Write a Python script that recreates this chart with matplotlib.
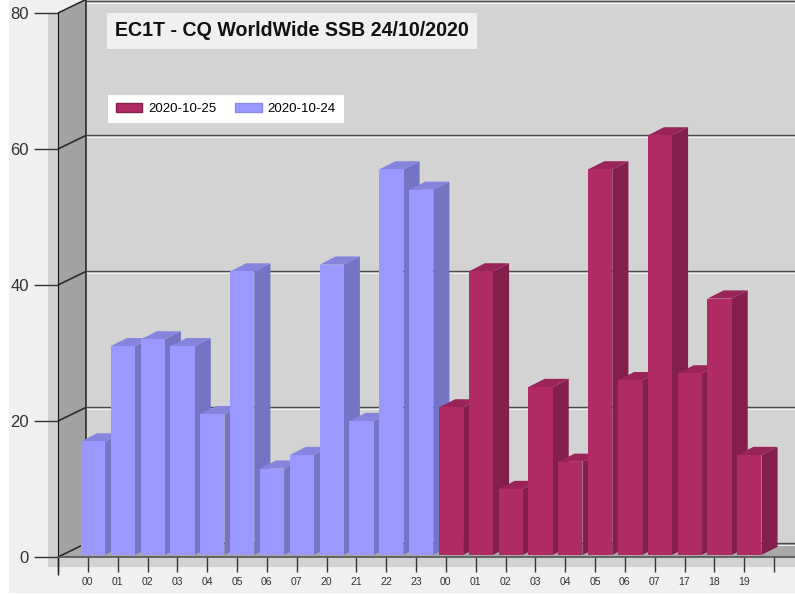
import matplotlib
matplotlib.use("Agg")
import matplotlib.pyplot as plt
from matplotlib.patches import Polygon, Patch, Rectangle

plt.rcParams['font.family'] = ['Liberation Sans', 'DejaVu Sans']

# bars, in the order they sit on the axis
labels_24 = ['00', '01', '02', '03', '04', '05', '06', '07', '20', '21', '22', '23']
values_24 = [17, 31, 32, 31, 21, 42, 13, 15, 43, 20, 57, 54]
labels_25 = ['00', '01', '02', '03', '04', '05', '06', '07', '17', '18', '19']
values_25 = [22, 42, 10, 25, 14, 57, 26, 62, 27, 38, 15]
yticks = [0, 20, 40, 60, 80]

BLUE = ('#9999ff', '#7474c4', '#8585de')
RED = ('#b02b66', '#841f4d', '#9a2459')

W, H = 795, 596
fig = plt.figure(figsize=(W / 100, H / 100), dpi=100, facecolor='white')

# page background, leaves the thin white margin on the left and bottom
fig.add_artist(Rectangle((9 / W, 4 / H), 1, 1, transform=fig.transFigure, color='#f0f0f0', zorder=-5))

ax = fig.add_axes([58 / W, (H - 557) / H, (774 - 58) / W, (557 - 13) / H])
ax.set_xlim(0, 24)
ax.set_ylim(0, 80)
ax.patch.set_alpha(0)

# wall depth in data units
dx = 0.94
dy = 2.0
xmax = 25.5


def poly(points, color, z):
    ax.add_patch(Polygon(points, closed=True, facecolor=color, edgecolor='none', zorder=z, clip_on=False))


def line(xs, ys, color='#222222', lw=1.0, z=2):
    ax.plot(xs, ys, color=color, lw=lw, zorder=z, clip_on=False, solid_capstyle='butt')


# shadow band behind the axes
poly([(-0.33, -1.5), (0, -1.5), (0, 80), (-0.33, 80)], '#d2d2d2', 0)
poly([(-0.33, -1.5), (xmax, -1.5), (xmax, 0), (-0.33, 0)], '#d2d2d2', 0)

# back wall, side wall and floor
poly([(dx, dy), (xmax, dy), (xmax, 83), (dx, 83)], '#d3d3d3', 0.5)
poly([(0, 0), (dx, dy), (dx, 82), (0, 80)], '#a2a2a2', 0.6)
poly([(0, 0), (xmax, 0), (xmax, dy), (dx, dy)], '#a8a8a8', 0.6)

# gridlines run along the side wall and the back wall
for v in yticks:
    line([0, dx], [v, v + dy], lw=1.1, z=1)
    top = min(v + dy, 81.7)
    line([dx, xmax], [top, top], color='#4a4a4a', lw=1.0, z=1)
    line([dx, xmax], [top - 0.3, top - 0.3], color='#f4f4f4', lw=0.7, z=0.9)
line([dx, dx], [0 + dy, 82], lw=1.1, z=1)

# 3d columns
bar_w = 0.81
bar_off = 0.77
depth_x = 0.54
depth_y = 1.2
floor = 0.3
all_values = values_24 + values_25
colors = [BLUE] * len(values_24) + [RED] * len(values_25)
for i, (v, c) in enumerate(zip(all_values, colors)):
    x0 = i + bar_off
    x1 = x0 + bar_w
    z = 3 + i * 0.01
    ax.bar(x0, v - floor, width=bar_w, bottom=floor, align='edge', color=c[0], zorder=z + 0.002, clip_on=False)
    poly([(x1, floor), (x1 + depth_x, floor + depth_y), (x1 + depth_x, v + depth_y), (x1, v)], c[1], z)
    poly([(x0, v), (x0 + depth_x, v + depth_y), (x1 + depth_x, v + depth_y), (x1, v)], c[2], z)

# axes
ax.set_xticks(range(0, 25))
ax.set_xticklabels([''] + labels_24 + labels_25 + [''], fontsize=7.5, color='#333333')
ax.set_yticks(yticks)
ax.tick_params(axis='x', length=11, width=1, color='#333333', pad=3.5)
ax.tick_params(axis='y', length=17, width=1, color='#333333', pad=4, labelsize=12, labelcolor='#333333')
for s in ['top', 'right']:
    ax.spines[s].set_visible(False)
ax.spines['left'].set_color('#111111')
ax.spines['left'].set_zorder(2)
ax.spines['bottom'].set_color('#555555')
ax.spines['bottom'].set_linewidth(1.2)
ax.spines['bottom'].set_zorder(6)
line([xmax, 24], [0, 0], color='#555555', lw=1.2, z=6)
line([0, 0], [0, -2.6], lw=1.0, z=6)

fig.text(115 / W, (H - 31) / H, 'EC1T - CQ WorldWide SSB 24/10/2020', fontsize=14.1, fontweight='bold',
         color='#111111', va='center', ha='left',
         bbox=dict(facecolor='#f0f0f0', edgecolor='none', pad=6), zorder=10)

handles = [Patch(facecolor=RED[0], edgecolor='#80204c', label='2020-10-25'),
           Patch(facecolor=BLUE[0], edgecolor='#8a8ae8', label='2020-10-24')]
leg = fig.legend(handles=handles, ncol=2, loc='upper left', bbox_to_anchor=(108 / W, (H - 95) / H),
                 frameon=True, fancybox=False, facecolor='white', edgecolor='none', framealpha=1,
                 fontsize=9.5, handlelength=2.0, handleheight=0.7, columnspacing=1.43, handletextpad=0.45,
                 borderpad=0.6, borderaxespad=0)
leg.set_zorder(10)

fig.savefig('out.png', dpi=100)
